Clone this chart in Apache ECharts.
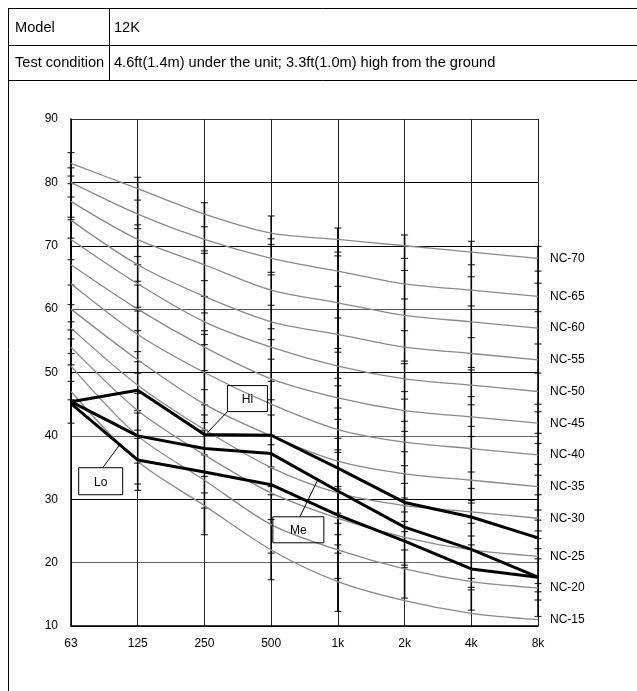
<!DOCTYPE html>
<html>
<head>
<meta charset="utf-8">
<script src="https://cdn.jsdelivr.net/npm/echarts@6/dist/echarts.min.js"></script>
<style>
html,body{margin:0;padding:0;background:#fff;}
#c{width:637px;height:691px;}
</style>
</head>
<body>
<div id="c"></div>
<script>
// ---- data ----
const freqs = ['63','125','250','500','1k','2k','4k','8k'];
const ncNames = ['NC-70','NC-65','NC-60','NC-55','NC-50','NC-45','NC-40','NC-35','NC-30','NC-25','NC-20','NC-15'];
const nc70 = [83,79,75,72,71,70,69,68];
const nc65 = [80,75,71,68,66,64,63,62];
const nc60 = [77,71,67,63,61,59,58,57];
const nc55 = [74,67,62,58,56,54,53,52];
const nc50 = [71,64,58,54,51,49,48,47];
const nc45 = [67,60,54,49,46,44,43,42];
const nc40 = [64,56,50,45,41,39,38,37];
const nc35 = [60,52,45,40,36,34,33,32];
const nc30 = [57,48,41,35,31,29,28,27];
const nc25 = [54,44,37,31,27,24,22,21];
const nc20 = [51,40,33,26,22,19,17,16];
const nc15 = [47,36,29,22,17,14,12,11];
const hiVals = [45.4,47.2,40.2,40.1,34.9,29.5,27.2,23.9];
const meVals = [45.4,40.0,38.0,37.2,31.3,25.6,22.1,17.7];
const loVals = [45.1,36.2,34.3,32.3,27.5,23.4,19.0,17.7];
// small tick marks on each frequency line
const t63  = [84.7,82.3,81.0,79.8,77.7,74.5,74.1,71.2,67.8,63.8,60.7,58.0,56.7,55.3,53.0,51.2,48.6,45.7,42.0];
const t125 = [80.8,77.2,73.3,72.7,69.9,68.3,67.0,64.4,63.8,60.3,59.7,56.6,53.3,51.7,49.9,46.7,44.0,43.6,40.9,39.6,35.7,32.4,31.4];
const t250 = [76.8,73.0,69.2,68.8,64.5,62.0,59.4,56.6,56.0,54.4,50.3,47.3,44.9,43.3,42.1,40.9,37.0,33.6,31.0,28.6,24.4];
const t500 = [74.7,71.1,70.2,65.8,65.4,60.6,56.9,55.2,52.1,48.6,45.7,43.3,40.1,38.6,35.1,32.0,30.7,26.8,21.5,17.3];
const t1k  = [72.8,69.0,68.4,63.6,58.6,53.8,53.2,49.1,47.9,44.4,42.6,39.6,37.8,37.4,32.0,31.6,27.8,26.2,24.4,22.8,21.5,17.5,12.3];
const t2k  = [71.7,68.0,66.1,61.6,56.6,51.8,51.4,47.0,45.8,42.3,40.7,37.5,35.3,32.5,30.2,28.0,26.5,24.9,22.0,19.6,19.2,14.4];
const t4k  = [70.7,67.0,65.1,60.5,55.5,50.8,50.4,46.2,44.9,41.5,39.9,38.0,34.3,31.7,29.8,29.4,27.1,26.2,24.2,22.8,17.5,16.1,15.7,12.5];
const t8k  = [69.9,66.0,64.1,59.6,54.5,49.9,45.0,43.8,40.4,38.8,35.5,33.8,30.7,28.3,26.7,25.0,23.8,22.2,20.6,16.7,15.4,14.1,11.5];
const headerModel = '12K';
const headerCond = '4.6ft(1.4m) under the unit; 3.3ft(1.0m) high from the ground';

// ---- build ----
const FONT = 'Arial, "Liberation Sans", sans-serif';
const ncData = [nc70,nc65,nc60,nc55,nc50,nc45,nc40,nc35,nc30,nc25,nc20,nc15];
const tickCols = [t63,t125,t250,t500,t1k,t2k,t4k,t8k];
const tickPts = [];
const barRanges = [];
tickCols.forEach((arr,i)=>{
  arr.forEach(v=>tickPts.push([i,v]));
  barRanges.push([i, Math.min(...arr), Math.max(...arr)]);
});

const series = [];
series.push({
  type:'custom', name:'bars', silent:true, z:2,
  renderItem:(params, api)=>{
    const top = api.coord([api.value(0), api.value(2)]);
    const bot = api.coord([api.value(0), api.value(1)]);
    return {type:'line', shape:{x1:top[0],y1:top[1],x2:bot[0],y2:bot[1]}, style:{stroke:'#000', lineWidth:1.6}};
  },
  data: barRanges
});
series.push({
  type:'scatter', name:'ticks', silent:true, z:3,
  symbol:'rect', symbolSize:[7,1.2],
  itemStyle:{color:'#000'},
  data: tickPts
});
ncData.forEach((d,k)=>{
  series.push({
    type:'line', name:ncNames[k], data:d, smooth:0.3, showSymbol:false, z:4,
    lineStyle:{color:'#8a8a8a', width:1.3},
    endLabel:{show:true, formatter:'{a}', distance:12, color:'#000', fontSize:12, fontFamily:FONT}
  });
});
[['Hi',hiVals],['Me',meVals],['Lo',loVals]].forEach(([n,d])=>{
  series.push({
    type:'line', name:n, data:d, showSymbol:false, z:6,
    lineStyle:{color:'#000', width:3}
  });
});

const chart = echarts.init(document.getElementById('c'), null, {renderer:'canvas'});
chart.setOption({
  animation:false,
  backgroundColor:'#fff',
  grid:{left:71, top:119, width:467, height:507, containLabel:false},
  xAxis:{
    type:'category', data:freqs, boundaryGap:false,
    axisLine:{lineStyle:{color:'#000', width:1.5}},
    axisTick:{show:false},
    axisLabel:{color:'#000', fontSize:12, fontFamily:FONT, margin:12, interval:0},
    splitLine:{show:true, interval:0, lineStyle:{color:'#222', width:1}}
  },
  yAxis:{
    type:'value', min:10, max:90, interval:10,
    axisLine:{show:true, lineStyle:{color:'#000', width:1.5}},
    axisTick:{show:false},
    axisLabel:{color:'#000', fontSize:12, fontFamily:FONT, margin:13},
    splitLine:{show:true, lineStyle:{color:['#000','#666','#000','#666','#000','#555','#000','#000','#333'], width:1}}
  },
  series: series
});

// ---- annotation & header graphics ----
const hiIdx = series.findIndex(s=>s.name==='Hi');
const meIdx = series.findIndex(s=>s.name==='Me');
const loIdx = series.findIndex(s=>s.name==='Lo');
function px(si, i, v){ return chart.convertToPixel({seriesIndex:si}, [i, v]); }
function lerp(a,b,t){ return [a[0]+(b[0]-a[0])*t, a[1]+(b[1]-a[1])*t]; }

const aHi = px(hiIdx, 2, hiVals[2]);
const aLo = lerp(px(loIdx,0,loVals[0]), px(loIdx,1,loVals[1]), 0.73);
const aMe = lerp(px(meIdx,3,meVals[3]), px(meIdx,4,meVals[4]), 0.70);

function callout(anchor, start, end, box, text){
  return [
    {type:'line', z:20, shape:{x1:anchor[0]+start[0], y1:anchor[1]+start[1], x2:anchor[0]+end[0], y2:anchor[1]+end[1]}, style:{stroke:'#000', lineWidth:1}},
    {type:'rect', z:20, shape:{x:anchor[0]+box[0], y:anchor[1]+box[1], width:box[2], height:box[3]}, style:{fill:'none', stroke:'#000', lineWidth:1}},
    {type:'text', z:21, x:anchor[0]+box[0]+box[2]/2, y:anchor[1]+box[1]+box[3]/2+1, style:{text:text, fill:'#000', font:'12px '+FONT, textAlign:'center', textVerticalAlign:'middle'}}
  ];
}

const g = [];
// header table
const L = 8.5;
const HF = '14.6px ' + FONT;
g.push({type:'line', shape:{x1:L,y1:8.5,x2:637,y2:8.5}, style:{stroke:'#000',lineWidth:1}});
g.push({type:'line', shape:{x1:L,y1:45.5,x2:637,y2:45.5}, style:{stroke:'#000',lineWidth:1}});
g.push({type:'line', shape:{x1:L,y1:80.5,x2:637,y2:80.5}, style:{stroke:'#000',lineWidth:1}});
g.push({type:'line', shape:{x1:L,y1:8,x2:L,y2:691}, style:{stroke:'#000',lineWidth:1}});
g.push({type:'line', shape:{x1:109.5,y1:8,x2:109.5,y2:80}, style:{stroke:'#000',lineWidth:1}});
g.push({type:'text', x:15, y:28, style:{text:'Model', fill:'#000', font:HF, textVerticalAlign:'middle'}});
g.push({type:'text', x:114, y:28, style:{text:headerModel, fill:'#000', font:HF, textVerticalAlign:'middle'}});
g.push({type:'text', x:15, y:63, style:{text:'Test condition', fill:'#000', font:HF, textVerticalAlign:'middle'}});
g.push({type:'text', x:114, y:63, style:{text:headerCond, fill:'#000', font:HF, textVerticalAlign:'middle'}});
// callouts
g.push(...callout(aHi, [3,-2], [23,-23], [23,-49,40,26], 'Hi'));
g.push(...callout(aLo, [0,0], [-17,23], [-41,23,44,27], 'Lo'));
g.push(...callout(aMe, [0,0], [-18,37], [-45,37,51,26], 'Me'));

chart.setOption({graphic: g});
</script>
</body>
</html>
